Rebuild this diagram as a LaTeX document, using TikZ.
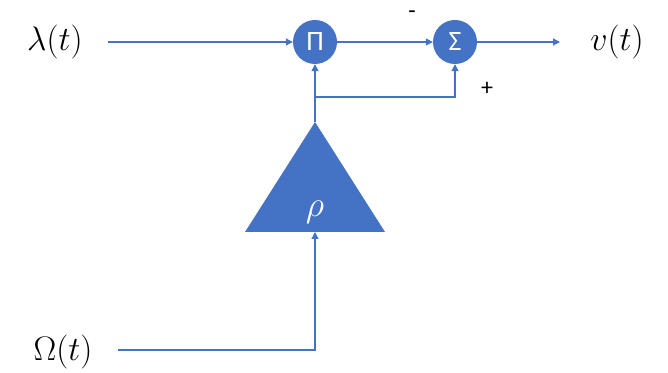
\RequirePackage{fix-cm}
\documentclass[tikz,border=0pt]{standalone}
\usepackage{fontspec}
\newfontfamily\calfont{Carlito}
\usetikzlibrary{arrows.meta}
\definecolor{officeblue}{HTML}{4472C4}
\begin{document}
\begin{tikzpicture}[x=1pt,y=1pt,
  every node/.style={font=\fontsize{34}{40}\selectfont},
  sig/.style={circle,fill=officeblue,minimum size=44pt,inner sep=0pt,text=white,font=\calfont\fontsize{28}{32}\selectfont},
  wire/.style={officeblue,line width=1.2pt},
  arr/.style={wire,-{Triangle[width=7pt,length=7pt]}}]
\useasboundingbox (0,0) rectangle (668,372);
% blocks
\node[sig] (mult) at (315,330) {Π};
\node[sig] (sum) at (455,330) {Σ};
\coordinate (apex) at (315,250);
\coordinate (base) at (315,140);
\fill[officeblue] (apex)--(385,140)--(245,140)--cycle;
\node[text=white,font=\fontsize{36}{40}\selectfont] (rho) at (315,160) {$\rho$};
% signals
\node (lam) at (55,330) {$\lambda(t)$};
\node (vout) at (617,330) {$v(t)$};
\node (om) at (63,20) {$\Omega(t)$};
\node[font=\calfont\fontsize{24}{28}\selectfont] (minus) at (412,357) {-};
\node[font=\calfont\fontsize{24}{28}\selectfont] (plus) at (487,283) {+};
\coordinate (lamend) at (108,330);
\coordinate (omend) at (118,22);
\coordinate (fork) at (315,275);
\coordinate (out) at (560,330);
% connectors
\draw[arr] (lamend) -- (mult.west);
\draw[arr] (mult) -- (sum);
\draw[arr] (sum) -- (out);
\draw[wire] (apex) -- (fork);
\draw[arr] (fork) -- (mult.south);
\draw[arr] (fork) -| (sum.south);
\draw[arr] (omend) -| (base);
\end{tikzpicture}
\end{document}
